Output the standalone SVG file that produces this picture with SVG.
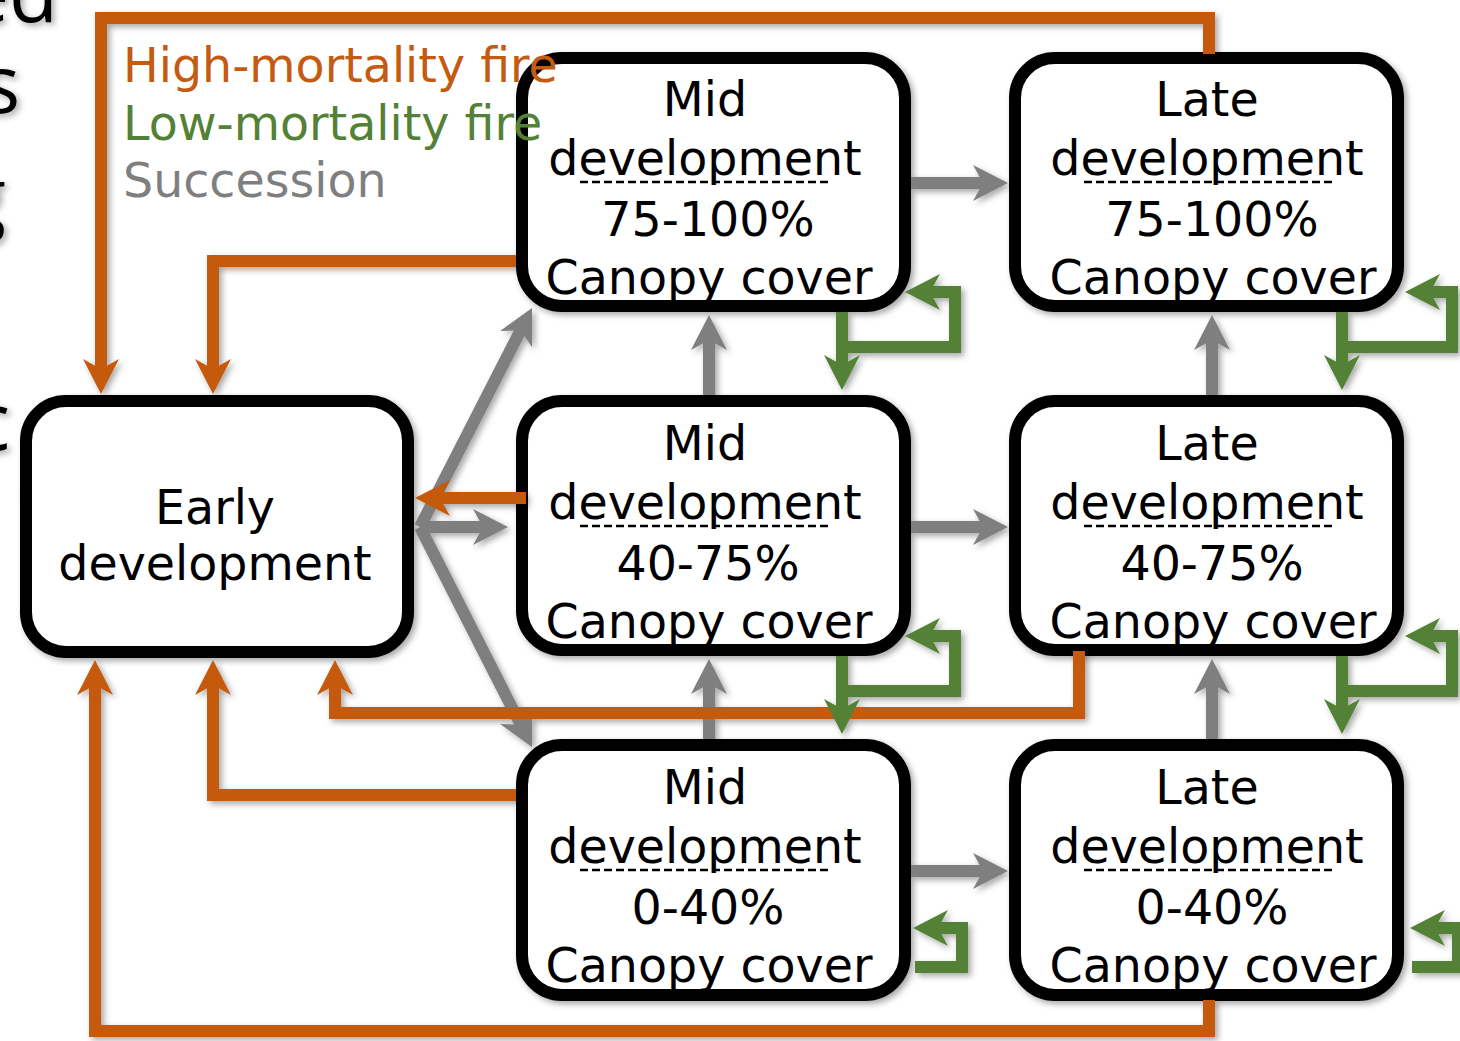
<svg xmlns="http://www.w3.org/2000/svg" width="1460" height="1041" viewBox="0 0 1460 1041">
<style>
.box{fill:#fff;stroke:#000;stroke-width:12}
.t{font-family:"DejaVu Sans","Verdana",sans-serif;font-size:47.5px;fill:#000;text-anchor:middle}
.lg{font-family:"DejaVu Sans","Verdana",sans-serif;font-size:47.5px}
.side{font-family:"Open Sans","Liberation Sans",sans-serif;font-size:80px;fill:#000;text-anchor:end}
.c{fill:none;stroke-width:12;stroke-linejoin:miter;stroke-linecap:butt}
.or{stroke:#C55A11}
.gr{stroke:#538135}
.gy{stroke:#7F7F7F}
.dash{stroke:#000;stroke-width:2.5;stroke-dasharray:8 4;fill:none}
</style>
<defs>
<filter id="sh" x="-10%" y="-10%" width="130%" height="130%">
<feDropShadow dx="3" dy="3" stdDeviation="3" flood-color="#000" flood-opacity="0.35"/>
</filter>
<marker id="aO" markerUnits="userSpaceOnUse" markerWidth="36" markerHeight="36" viewBox="0 0 35 36" refX="13" refY="18" orient="auto"><path d="M0,0 L35,18 L0,36 L10,18 Z" fill="#C55A11"/></marker>
<marker id="aG" markerUnits="userSpaceOnUse" markerWidth="36" markerHeight="36" viewBox="0 0 35 36" refX="13" refY="18" orient="auto"><path d="M0,0 L35,18 L0,36 L10,18 Z" fill="#538135"/></marker>
<marker id="aY" markerUnits="userSpaceOnUse" markerWidth="36" markerHeight="36" viewBox="0 0 35 36" refX="13" refY="18" orient="auto"><path d="M0,0 L35,18 L0,36 L10,18 Z" fill="#7F7F7F"/></marker>
</defs>
<rect width="1460" height="1041" fill="#fff"/>
<g id="side-text" filter="url(#sh)">
<text class="side" x="58" y="22">ed</text>
<text class="side" x="20" y="113">s</text>
<text class="side" x="6" y="226">g</text>
<text class="side" x="10" y="450">c</text>
</g>
<g id="nodes">
<g id="early"><rect class="box" filter="url(#sh)" x="26" y="401" width="382" height="251" rx="40"/>
<text class="t" x="215" y="524">Early</text><text class="t" x="215" y="580">development</text></g>
<g id="mid75"><rect class="box" filter="url(#sh)" x="522" y="58" width="383" height="248" rx="40"/>
<text class="t" x="705" y="116">Mid</text><text class="t" x="705" y="175">development</text><line class="dash" x1="580" y1="182" x2="830" y2="182"/><text class="t" x="708" y="236">75-100%</text><text class="t" x="709" y="294">Canopy cover</text></g>
<g id="late75"><rect class="box" filter="url(#sh)" x="1015" y="58" width="383" height="248" rx="40"/>
<text class="t" x="1207" y="116">Late</text><text class="t" x="1207" y="175">development</text><line class="dash" x1="1084" y1="182" x2="1334" y2="182"/><text class="t" x="1212" y="236">75-100%</text><text class="t" x="1213" y="294">Canopy cover</text></g>
<g id="mid40"><rect class="box" filter="url(#sh)" x="522" y="401" width="383" height="249" rx="40"/>
<text class="t" x="705" y="460">Mid</text><text class="t" x="705" y="519">development</text><line class="dash" x1="580" y1="526" x2="830" y2="526"/><text class="t" x="708" y="580">40-75%</text><text class="t" x="709" y="638">Canopy cover</text></g>
<g id="late40"><rect class="box" filter="url(#sh)" x="1015" y="401" width="383" height="249" rx="40"/>
<text class="t" x="1207" y="460">Late</text><text class="t" x="1207" y="519">development</text><line class="dash" x1="1084" y1="526" x2="1334" y2="526"/><text class="t" x="1212" y="580">40-75%</text><text class="t" x="1213" y="638">Canopy cover</text></g>
<g id="mid0"><rect class="box" filter="url(#sh)" x="522" y="745" width="383" height="250" rx="40"/>
<text class="t" x="705" y="804">Mid</text><text class="t" x="705" y="863">development</text><line class="dash" x1="580" y1="870" x2="830" y2="870"/><text class="t" x="708" y="924">0-40%</text><text class="t" x="709" y="982">Canopy cover</text></g>
<g id="late0"><rect class="box" filter="url(#sh)" x="1015" y="745" width="383" height="250" rx="40"/>
<text class="t" x="1207" y="804">Late</text><text class="t" x="1207" y="863">development</text><line class="dash" x1="1084" y1="870" x2="1334" y2="870"/><text class="t" x="1212" y="924">0-40%</text><text class="t" x="1213" y="982">Canopy cover</text></g>
</g>
<g id="legend">
<text class="lg" x="123" y="82" fill="#C55A11">High-mortality fire</text>
<text class="lg" x="123" y="140" fill="#538135">Low-mortality fire</text>
<text class="lg" x="123" y="197" fill="#7F7F7F">Succession</text>
</g>
<g id="connectors" filter="url(#sh)">
<path class="c gy" marker-end="url(#aY)" d="M911,183 H986"/>
<path class="c gy" marker-end="url(#aY)" d="M911,527 H986"/>
<path class="c gy" marker-end="url(#aY)" d="M911,871 H986"/>
<path class="c gy" marker-end="url(#aY)" d="M709,395 V337"/>
<path class="c gy" marker-end="url(#aY)" d="M709,739 V681"/>
<path class="c gy" marker-end="url(#aY)" d="M1212,395 V337"/>
<path class="c gy" marker-end="url(#aY)" d="M1212,739 V681"/>
<path class="c gy" marker-end="url(#aY)" d="M420,527 L522,327.6"/>
<path class="c gy" marker-end="url(#aY)" d="M420,527 H486"/>
<path class="c gy" marker-end="url(#aY)" d="M420,527 L522,727.4"/>
<path class="c or" marker-end="url(#aO)" d="M1209,54 V18 H101 V372"/>
<path class="c or" marker-end="url(#aO)" d="M516,261 H213 V372"/>
<path class="c or" marker-end="url(#aO)" d="M526,498 H437"/>
<path class="c or" marker-end="url(#aO)" d="M1079,651 V713 H335 V682"/>
<path class="c or" marker-end="url(#aO)" d="M516,795 H213 V682"/>
<path class="c or" marker-end="url(#aO)" d="M1209,1000 V1031 H95 V682"/>
<path class="c gr" marker-end="url(#aG)" d="M842,312 V347 H955 V292 H927"/>
<path class="c gr" marker-end="url(#aG)" d="M842,340 V368"/>
<path class="c gr" marker-end="url(#aG)" d="M1342,312 V347 H1452 V292 H1427"/>
<path class="c gr" marker-end="url(#aG)" d="M1342,340 V368"/>
<path class="c gr" marker-end="url(#aG)" d="M842,656 V691 H955 V636 H927"/>
<path class="c gr" marker-end="url(#aG)" d="M842,684 V712"/>
<path class="c gr" marker-end="url(#aG)" d="M1342,656 V691 H1452 V636 H1427"/>
<path class="c gr" marker-end="url(#aG)" d="M1342,684 V712"/>
<path class="c gr" marker-end="url(#aG)" d="M915,967 H962 V928 H935"/>
<path class="c gr" marker-end="url(#aG)" d="M1412,967 H1458 V928 H1432"/>
</g>
</svg>
